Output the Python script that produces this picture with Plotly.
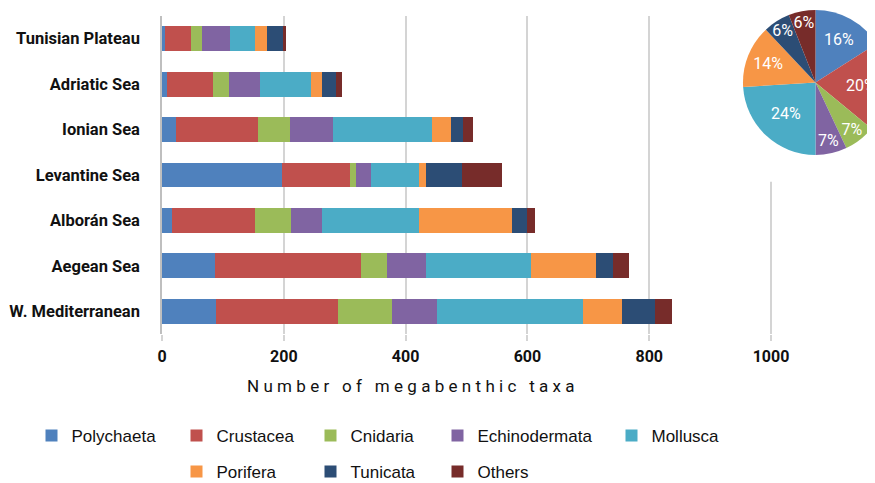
import plotly.graph_objects as go

# ---------------- data ----------------
regions = ["Tunisian Plateau", "Adriatic Sea", "Ionian Sea", "Levantine Sea",
           "Alborán Sea", "Aegean Sea", "W. Mediterranean"]

groups = ["Polychaeta", "Crustacea", "Cnidaria", "Echinodermata",
          "Mollusca", "Porifera", "Tunicata", "Others"]

polychaeta    = [5, 8, 23, 197, 16, 87, 88]
crustacea     = [42, 76, 135, 112, 137, 240, 201]
cnidaria      = [18, 26, 52, 10, 58, 42, 88]
echinodermata = [46, 51, 70, 24, 52, 64, 74]
mollusca      = [42, 84, 163, 79, 159, 173, 240]
porifera      = [20, 18, 32, 12, 152, 106, 64]
tunicata      = [25, 22, 19, 58, 26, 28, 55]
others        = [5, 11, 17, 67, 12, 26, 28]

pie_pct = [16, 20, 7, 7, 24, 14, 6, 6]

x_ticks = [0, 200, 400, 600, 800, 1000]

# ---------------- style ----------------
colors = ["#4F81BD", "#C0504D", "#9BBB59", "#8064A2",
          "#4BACC6", "#F79646", "#2C4D75", "#772C2A"]

# page offset of the figure (browser default body margin) and figure size
OX, OY = 8, 8
FW, FH = 882, 475   # right part of the inset pie runs past the window edge, like the reference


def fx(px):
    """page pixel x -> paper fraction"""
    return (px - OX) / FW


def fy(py):
    """page pixel y -> paper fraction"""
    return 1 - (py - OY) / FH


COND = "Roboto, Liberation Sans, sans-serif"
LEGF = "Liberation Sans, Arial, sans-serif"

series = [polychaeta, crustacea, cnidaria, echinodermata,
          mollusca, porifera, tunicata, others]

# legend placement (page pixel positions of icon centres)
leg_pos = [(51.5, 436), (196.5, 436), (330.5, 436), (457.5, 436), (631.5, 436),
           (196.5, 472), (330.5, 472), (457.5, 472)]

fig = go.Figure()

for i, (name, vals) in enumerate(zip(groups, series)):
    lname = "legend" if i == 0 else f"legend{i+1}"
    fig.add_trace(go.Bar(
        y=regions, x=vals, name=name, orientation="h",
        marker=dict(color=colors[i], line=dict(width=0)),
        legend=lname, hoverinfo="x+name",
    ))

fig.add_trace(go.Pie(
    labels=groups, values=pie_pct, sort=False, direction="clockwise",
    rotation=0, marker=dict(colors=colors, line=dict(width=0)),
    texttemplate="%{value}%", textposition="inside",
    insidetextorientation="horizontal",
    textfont=dict(family=COND, size=16, color="white"),
    showlegend=False, hoverinfo="label+percent",
    domain=dict(x=[fx(743), fx(888)], y=[fy(155), fy(10)]),
))

layout_legends = {}
for i, (cx, cy) in enumerate(leg_pos):
    key = "legend" if i == 0 else f"legend{i+1}"
    layout_legends[key] = dict(
        x=fx(cx - 20), y=fy(cy), xanchor="left", yanchor="middle",
        orientation="h", bgcolor="rgba(0,0,0,0)", borderwidth=0,
        font=dict(family=LEGF, size=17, color="#111111"),
        itemclick=False, itemdoubleclick=False,
    )

fig.update_layout(
    template="none",
    width=FW, height=FH,
    margin=dict(l=0, r=0, t=0, b=0, autoexpand=False),
    paper_bgcolor="white", plot_bgcolor="white",
    barmode="stack", bargap=0.45,
    uniformtext=dict(minsize=16, mode="show"),
    xaxis=dict(
        domain=[fx(162), fx(801.5)], range=[0, 1050], automargin=False,
        tickvals=x_ticks, ticktext=[str(v) for v in x_ticks],
        showgrid=True, gridcolor="#d4d4d4", gridwidth=1.5,
        zeroline=False, showline=False,
        ticks="outside", ticklen=6, tickwidth=1.5, tickcolor="#d4d4d4",
        tickfont=dict(family=COND, size=16, color="#111111", weight="bold"),
        ticklabelstandoff=2,
    ),
    yaxis=dict(
        domain=[fy(334), fy(16)], automargin=False,
        categoryorder="array", categoryarray=regions, autorange="reversed",
        showgrid=False, zeroline=False,
        showline=True, linecolor="#bfbfbf", linewidth=1.5,
        ticks="", ticklabelstandoff=17,
        tickfont=dict(family=COND, size=16.5, color="#111111", weight="bold"),
    ),
    shapes=[dict(type="rect", xref="x", yref="y", x0=900, x1=1050,
                 y0=-0.5, y1=3.15, fillcolor="white", line=dict(width=0),
                 layer="between")],
    annotations=[dict(
        text='<span style="letter-spacing:4.3px">Number of megabenthic taxa</span>',
        xref="paper", yref="paper", x=fx(413), y=fy(386),
        xanchor="center", yanchor="middle", showarrow=False,
        font=dict(family=COND, size=17, color="#111111"),
    )],
    **layout_legends,
)

fig.write_html("out.html")
